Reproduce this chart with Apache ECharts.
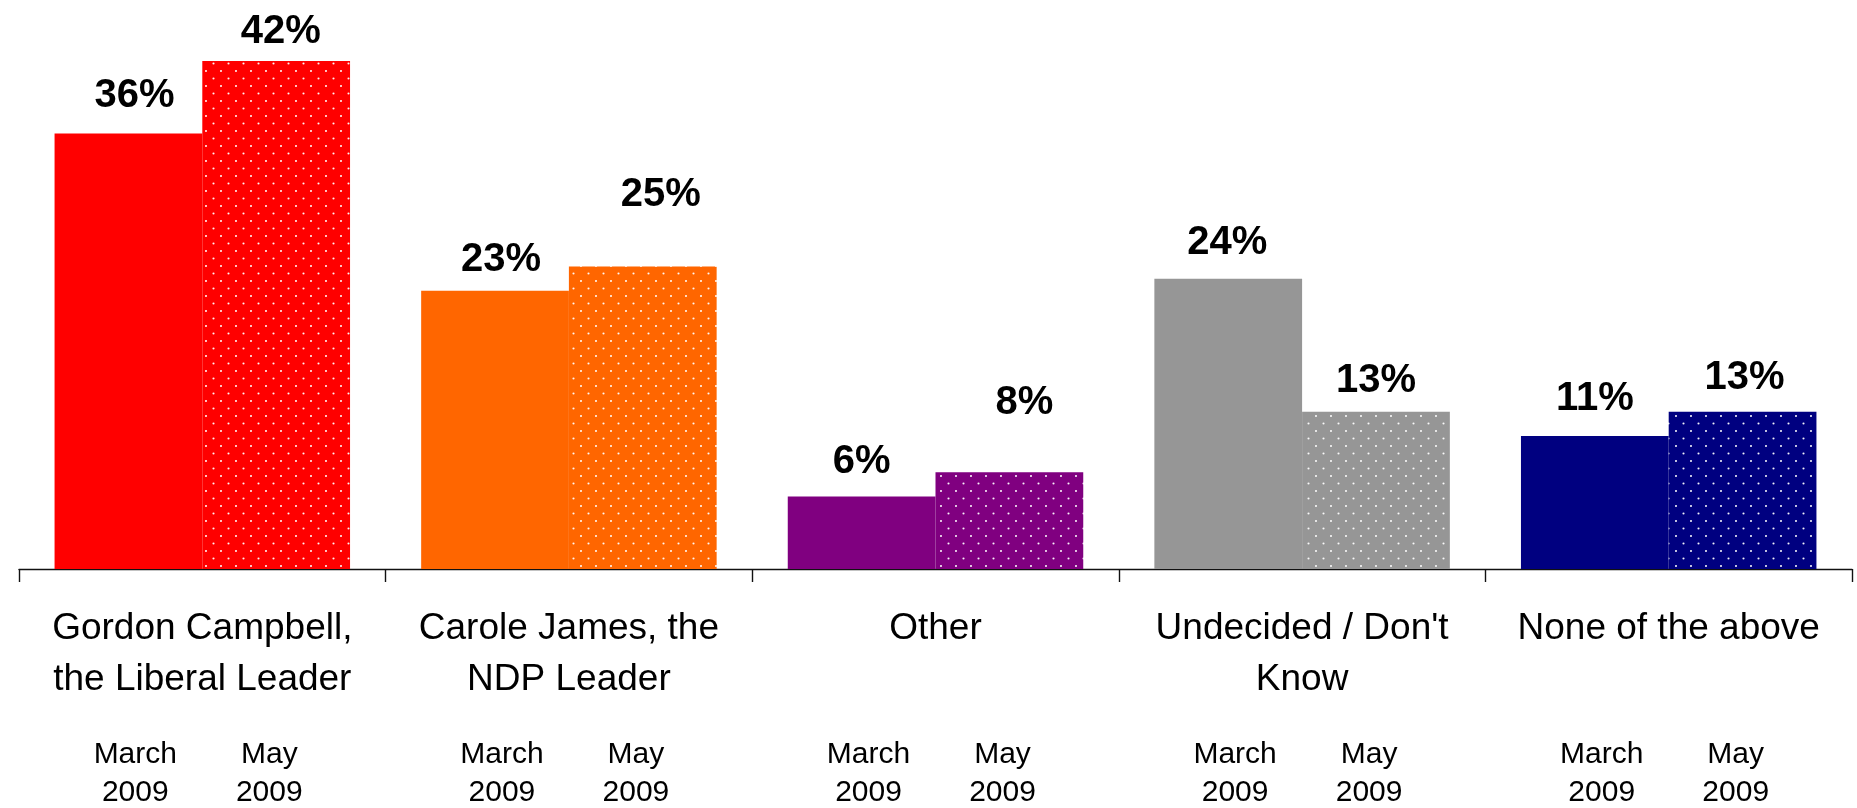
<!DOCTYPE html>
<html>
<head>
<meta charset="utf-8">
<script src="https://cdn.jsdelivr.net/npm/echarts@6/dist/echarts.min.js"></script>
<style>
  html, body { margin: 0; padding: 0; background: #fff; }
  #chart { width: 1857px; height: 808px; }
</style>
</head>
<body>
<div id="chart"></div>
<script>
// ---- data ----
const categories = [
  "Gordon Campbell,\nthe Liberal Leader",
  "Carole James, the\nNDP Leader",
  "Other",
  "Undecided / Don't\nKnow",
  "None of the above"
];
const periods = ["March 2009", "May 2009"];
const march2009 = [36, 23, 6, 24, 11];
const may2009 = [42, 25, 8, 13, 13];

// ---- styling ----
const barColors = ["#FF0000", "#FF6600", "#800080", "#969696", "#000080"];
const FONT = "'Liberation Sans', Arial, Helvetica, sans-serif";
// label nudges [dx, distance] per bar (layout only)
const marchLabelStyle = [[6, 17.3], [6, 10.7], [0, 14.3], [-1, 15.3], [0, 16.7]];
const mayLabelStyle = [[4.5, 9], [18, 51.3], [15, 49.3], [0, 10.7], [2, 13.3]];

function makePattern(color) {
  const c = document.createElement('canvas');
  c.width = 15; c.height = 15;
  const ctx = c.getContext('2d');
  ctx.fillStyle = color;
  ctx.fillRect(0, 0, 15, 15);
  ctx.fillStyle = 'rgba(255,255,255,0.95)';
  [[3.5, 3.5], [11, 11]].forEach(function (p) {
    ctx.beginPath();
    ctx.arc(p[0], p[1], 1.05, 0, Math.PI * 2);
    ctx.fill();
  });
  return c;
}

const valueLabel = {
  show: true,
  position: 'top',
  formatter: '{c}%',
  fontFamily: FONT,
  fontSize: 40,
  fontWeight: 'bold',
  color: '#000'
};

const marchData = march2009.map(function (v, i) {
  return {
    value: v,
    itemStyle: { color: barColors[i] },
    label: { offset: [marchLabelStyle[i][0], 0], distance: marchLabelStyle[i][1] }
  };
});
const mayData = may2009.map(function (v, i) {
  return {
    value: v,
    itemStyle: { color: { image: makePattern(barColors[i]), repeat: 'repeat' } },
    label: { offset: [mayLabelStyle[i][0], 0], distance: mayLabelStyle[i][1] }
  };
});

const periodParts = periods.map(function (p) { return p.split(' '); });
const periodText = '{p|' + periodParts[0][0] + '}{p|' + periodParts[1][0] + '}\n' +
                   '{p|' + periodParts[0][1] + '}{p|' + periodParts[1][1] + '}';

const chart = echarts.init(document.getElementById('chart'), null, { renderer: 'canvas' });
chart.setOption({
  animation: false,
  backgroundColor: '#fff',
  grid: { left: 19, right: 5, top: 24.6, bottom: 238, containLabel: false },
  xAxis: [
    {
      type: 'category',
      data: categories,
      axisLine: { show: true, lineStyle: { color: '#111', width: 1.4 } },
      axisTick: { show: true, length: 13, lineStyle: { color: '#111', width: 1.4 } },
      axisLabel: {
        interval: 0, margin: 34.5, color: '#000',
        fontFamily: FONT, fontSize: 37, lineHeight: 51
      }
    },
    {
      type: 'category',
      data: categories,
      position: 'bottom',
      axisLine: { show: false },
      axisTick: { show: false },
      axisLabel: {
        interval: 0, margin: 167,
        formatter: function () { return periodText; },
        rich: {
          p: { width: 134, align: 'center', fontFamily: FONT, fontSize: 30, lineHeight: 38, color: '#000' }
        }
      }
    }
  ],
  yAxis: { type: 'value', min: 0, max: 45, show: false },
  series: [
    {
      name: periods[0], type: 'bar', xAxisIndex: 0,
      barGap: '0%', barCategoryGap: '19.4%',
      data: marchData, label: valueLabel
    },
    {
      name: periods[1], type: 'bar', xAxisIndex: 0,
      barGap: '0%', barCategoryGap: '19.4%',
      data: mayData, label: valueLabel
    }
  ]
});
</script>
</body>
</html>
